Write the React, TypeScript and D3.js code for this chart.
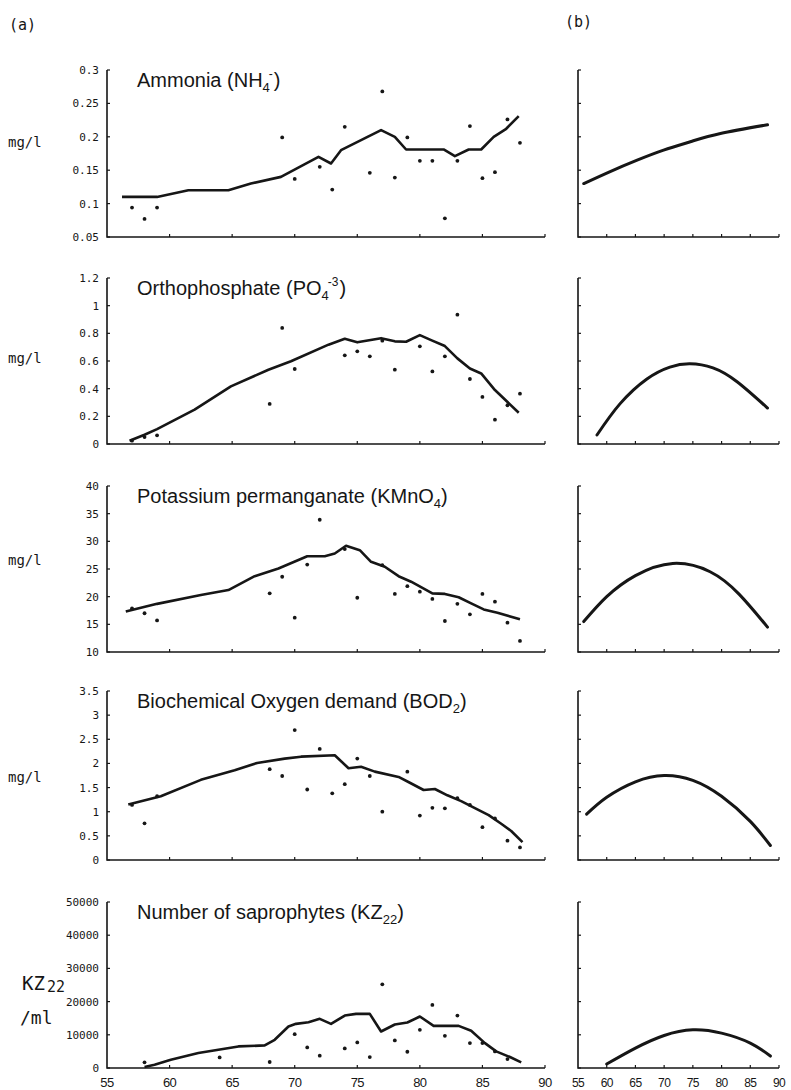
import * as React from "react"
import * as d3 from "d3"

type Pt = [number, number]

const yearTicks = [55, 60, 65, 70, 75, 80, 85, 90]

// Ammonia (NH4-)
const nh4Ticks = [0.05, 0.1, 0.15, 0.2, 0.25, 0.3]
const nh4LineYr = [56.2, 59, 61.5, 64.7, 66.5, 68.9, 71.9, 72.9, 73.7, 76.9, 78, 78.9, 81.9, 82.8, 83.9, 84.9, 85.9, 86.9, 87.9]
const nh4LineVal = [0.11, 0.11, 0.12, 0.12, 0.13, 0.14, 0.17, 0.16, 0.18, 0.21, 0.2, 0.181, 0.181, 0.171, 0.181, 0.181, 0.2, 0.212, 0.231]
const nh4PtYr = [57, 58, 59, 69, 70, 72, 73, 74, 76, 77, 78, 79, 80, 81, 82, 83, 84, 85, 86, 87, 88]
const nh4PtVal = [0.094, 0.077, 0.094, 0.199, 0.137, 0.155, 0.121, 0.215, 0.146, 0.268, 0.139, 0.199, 0.164, 0.164, 0.078, 0.164, 0.216, 0.138, 0.147, 0.226, 0.191]
const nh4FitYr = [56, 60.6, 65.3, 69.9, 74.7, 79.8, 88]
const nh4FitVal = [0.13, 0.148, 0.165, 0.18, 0.193, 0.205, 0.218]

// Orthophosphate (PO4-3)
const po4Ticks = [0, 0.2, 0.4, 0.6, 0.8, 1, 1.2]
const po4LineYr = [56.8, 58, 59, 62, 64.9, 67.9, 69.7, 72.7, 74, 75, 76.9, 78, 78.9, 80, 80.9, 82, 83, 84, 84.9, 86, 87.9]
const po4LineVal = [0.024, 0.067, 0.108, 0.248, 0.417, 0.537, 0.598, 0.718, 0.761, 0.735, 0.765, 0.742, 0.739, 0.787, 0.751, 0.708, 0.619, 0.546, 0.51, 0.39, 0.226]
const po4PtYr = [57, 58, 59, 68, 69, 70, 74, 75, 76, 77, 78, 80, 81, 82, 83, 84, 85, 86, 87, 88]
const po4PtVal = [0.024, 0.05, 0.063, 0.29, 0.839, 0.542, 0.641, 0.67, 0.634, 0.747, 0.537, 0.706, 0.525, 0.634, 0.935, 0.47, 0.34, 0.176, 0.28, 0.364]
const po4FitYr = [58.3, 62.3, 67, 71, 74.5, 78.5, 82.7, 88]
const po4FitVal = [0.065, 0.29, 0.47, 0.556, 0.58, 0.55, 0.45, 0.26]

// Potassium permanganate (KMnO4)
const kmTicks = [10, 15, 20, 25, 30, 35, 40]
const kmLineYr = [56.5, 59, 62.5, 64.7, 66.8, 68.7, 71, 72.4, 73.2, 74.1, 75.2, 76.1, 77.2, 78.3, 79.3, 81, 82, 83.1, 84.1, 85.1, 86.2, 88]
const kmLineVal = [17.3, 18.7, 20.3, 21.2, 23.7, 25.1, 27.3, 27.3, 27.8, 29.2, 28.4, 26.3, 25.4, 23.7, 22.7, 20.6, 20.5, 19.9, 18.8, 17.7, 17.1, 15.9]
const kmPtYr = [57, 58, 59, 68, 69, 70, 71, 72, 74, 75, 77, 78, 79, 80, 81, 82, 83, 84, 85, 86, 87, 88]
const kmPtVal = [17.9, 17, 15.7, 20.6, 23.6, 16.2, 25.8, 33.9, 28.6, 19.8, 25.7, 20.5, 21.9, 20.9, 19.6, 15.6, 18.7, 16.8, 20.5, 19.1, 15.3, 12]
const kmFitYr = [56, 60, 65, 71.5, 78, 83, 88]
const kmFitVal = [15.5, 20, 23.8, 26, 24.5, 20.5, 14.5]

// Biochemical Oxygen demand (BOD2)
const bodTicks = [0, 0.5, 1, 1.5, 2, 2.5, 3, 3.5]
const bodLineYr = [56.7, 59.3, 62.5, 65.2, 67, 69.2, 70.5, 73.2, 74.3, 75.3, 76.4, 78.3, 79.2, 80.3, 81.2, 82.2, 83.3, 84.2, 85.5, 86.5, 87.3, 88.2]
const bodLineVal = [1.15, 1.32, 1.66, 1.86, 2.01, 2.1, 2.14, 2.17, 1.9, 1.93, 1.83, 1.72, 1.6, 1.45, 1.47, 1.34, 1.22, 1.1, 0.93, 0.75, 0.6, 0.37]
const bodPtYr = [57, 58, 59, 68, 69, 70, 71, 72, 73, 74, 75, 76, 77, 79, 80, 81, 82, 83, 84, 85, 86, 87, 88]
const bodPtVal = [1.14, 0.76, 1.32, 1.88, 1.74, 2.69, 1.46, 2.3, 1.38, 1.57, 2.1, 1.74, 1.0, 1.83, 0.92, 1.08, 1.07, 1.28, 1.14, 0.68, 0.86, 0.4, 0.26]
const bodFitYr = [56.5, 60, 65, 70, 75, 80, 85, 88.5]
const bodFitVal = [0.95, 1.3, 1.62, 1.75, 1.65, 1.32, 0.8, 0.3]

// Number of saprophytes (KZ22)
const kzTicks = [0, 10000, 20000, 30000, 40000, 50000]
const kzLineYr = [58, 58.8, 60.1, 62.3, 63.9, 65.5, 67.6, 68.4, 69.5, 70.1, 71.1, 72, 72.9, 74, 74.9, 76, 76.9, 78, 79, 80, 81.1, 83.1, 84.1, 85.2, 86.1, 87.2, 88.1]
const kzLineVal = [300, 1000, 2500, 4500, 5500, 6500, 6800, 8500, 12500, 13300, 13800, 14800, 13300, 15800, 16300, 16300, 11000, 13100, 13700, 15500, 12700, 12700, 11200, 7500, 5000, 3300, 1700]
const kzPtYr = [58, 64, 68, 70, 71, 72, 74, 75, 76, 77, 78, 79, 80, 81, 82, 83, 84, 85, 86, 87]
const kzPtVal = [1700, 3200, 1800, 10200, 6200, 3700, 5900, 7700, 3300, 25200, 8300, 4900, 11500, 19000, 9700, 15800, 7500, 7500, 5000, 2700]
const kzFitYr = [60, 65, 70, 75, 80, 85, 88.5]
const kzFitVal = [1200, 6000, 9800, 11500, 10500, 7500, 3600]

const zip = (xs: number[], ys: number[]): Pt[] => xs.map((x, i) => [x, ys[i]])

interface Panel {
    name: string
    sub: string
    sup?: string
    ticks: number[]
    line: Pt[]
    pts: Pt[]
    fit: Pt[]
}

const panels: Panel[] = [
    { name: "Ammonia (NH", sub: "4", sup: "-", ticks: nh4Ticks, line: zip(nh4LineYr, nh4LineVal), pts: zip(nh4PtYr, nh4PtVal), fit: zip(nh4FitYr, nh4FitVal) },
    { name: "Orthophosphate (PO", sub: "4", sup: "-3", ticks: po4Ticks, line: zip(po4LineYr, po4LineVal), pts: zip(po4PtYr, po4PtVal), fit: zip(po4FitYr, po4FitVal) },
    { name: "Potassium  permanganate (KMnO", sub: "4", ticks: kmTicks, line: zip(kmLineYr, kmLineVal), pts: zip(kmPtYr, kmPtVal), fit: zip(kmFitYr, kmFitVal) },
    { name: "Biochemical Oxygen demand (BOD", sub: "2", ticks: bodTicks, line: zip(bodLineYr, bodLineVal), pts: zip(bodPtYr, bodPtVal), fit: zip(bodFitYr, bodFitVal) },
    { name: "Number of saprophytes (KZ", sub: "22", ticks: kzTicks, line: zip(kzLineYr, kzLineVal), pts: zip(kzPtYr, kzPtVal), fit: zip(kzFitYr, kzFitVal) },
]

// layout
const [W, H] = [791, 1090]
const tops = [70, 278, 486, 691, 902]
const bottoms = [237, 444, 652, 860, 1068]
const unitY = [147, 363, 565, 782]
const xL = d3.scaleLinear().domain([55, 90]).range([107, 545])
const xR = d3.scaleLinear().domain([55, 90]).range([578, 779])

const ink = "#161616"
const mono = "'DejaVu Sans Mono', 'Liberation Mono', monospace"
const sans = "'Liberation Sans', Arial, sans-serif"

const Title = ({ p, y }: { p: Panel, y: number }) => (
    <text x={137} y={y} fontFamily={sans} fontSize={20} fill={ink}>
        {p.name}
        <tspan fontSize={13} dy={5}>{p.sub}</tspan>
        {p.sup && <tspan fontSize={12} dx={-1} dy={-14}>{p.sup}</tspan>}
        <tspan dx={p.sup ? 1 : 0} dy={p.sup ? 9 : -5}>)</tspan>
    </text>
)

const PanelPlot = ({ p, i }: { p: Panel, i: number }) => {
    const ext = d3.extent(p.ticks) as [number, number]
    const y = d3.scaleLinear().domain(ext).range([bottoms[i], tops[i]])
    const line = d3.line<Pt>().x(d => xL(d[0])).y(d => y(d[1]))
    const fit = d3.line<Pt>().x(d => xR(d[0])).y(d => y(d[1])).curve(d3.curveNatural)
    const last = i === panels.length - 1
    const x0 = xL(55), xr0 = xR(55)

    return (
        <g>
            {/* (a) axes */}
            <path d={`M${x0},${tops[i]}V${bottoms[i]}H${xL(90)}`} fill="none" stroke={ink} strokeWidth={1.6} />
            {p.ticks.map((t, k) => (
                <g key={k}>
                    <line x1={x0} x2={x0 + 3} y1={y(t)} y2={y(t)} stroke={ink} strokeWidth={1.2} />
                    <text x={x0 - 8} y={y(t) + 4} textAnchor="end" fontFamily={mono} fontSize={11} fill={ink}>{String(t)}</text>
                </g>
            ))}
            {yearTicks.slice(1).map((t, k) => (
                <line key={k} x1={xL(t)} x2={xL(t)} y1={bottoms[i]} y2={bottoms[i] - 3} stroke={ink} strokeWidth={1.2} />
            ))}
            <path d={line(p.line) ?? ""} fill="none" stroke={ink} strokeWidth={2.6} strokeLinejoin="round" />
            {p.pts.map((d, k) => (
                <circle key={k} cx={xL(d[0])} cy={y(d[1])} r={1.9} fill={ink} />
            ))}
            <Title p={p} y={tops[i] + 17} />

            {/* (b) axes */}
            <path d={`M${xr0},${tops[i]}V${bottoms[i]}H${xR(90)}`} fill="none" stroke={ink} strokeWidth={1.6} />
            {p.ticks.map((t, k) => (
                <line key={k} x1={xr0} x2={xr0 + 3} y1={y(t)} y2={y(t)} stroke={ink} strokeWidth={1.2} />
            ))}
            {yearTicks.slice(1).map((t, k) => (
                <line key={k} x1={xR(t)} x2={xR(t)} y1={bottoms[i]} y2={bottoms[i] - 3} stroke={ink} strokeWidth={1.2} />
            ))}
            <path d={fit(p.fit) ?? ""} fill="none" stroke={ink} strokeWidth={3} strokeLinecap="round" />

            {last && yearTicks.map((t, k) => (
                <g key={k}>
                    <text x={xL(t)} y={bottoms[i] + 19} textAnchor="middle" fontFamily={sans} fontSize={13} letterSpacing={-0.6} fill={ink}>{t}</text>
                    <text x={xR(t)} y={bottoms[i] + 19} textAnchor="middle" fontFamily={sans} fontSize={12} letterSpacing={-0.6} fill={ink}>{t}</text>
                </g>
            ))}
        </g>
    )
}

export default function App() {
    return (
        <svg width={W} height={H} style={{ position: "absolute", left: 0, top: 0, background: "#fff" }}>
            <text x={9} y={30} fontFamily={mono} fontSize={15} fill={ink}>(a)</text>
            <text x={565} y={27} fontFamily={mono} fontSize={15} fill={ink}>(b)</text>
            {unitY.map((uy, k) => (
                <text key={k} x={8} y={uy} fontFamily={mono} fontSize={14} fill={ink}>mg/l</text>
            ))}
            <text x={22} y={990} fontFamily={mono} fontSize={19} fill={ink}>
                KZ<tspan fontSize={15} dx={2} dy={2}>22</tspan>
            </text>
            <text x={20} y={1024} fontFamily={mono} fontSize={18} fill={ink}>/ml</text>
            {panels.map((p, i) => <PanelPlot key={i} p={p} i={i} />)}
        </svg>
    )
}
